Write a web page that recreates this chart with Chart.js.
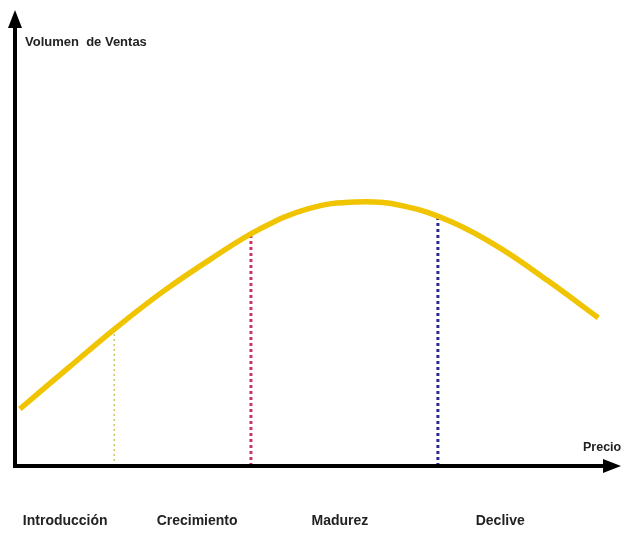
<!DOCTYPE html>
<html><head><meta charset="utf-8">
<script src="https://cdn.jsdelivr.net/npm/chart.js@4"></script>
<style>html,body{margin:0;padding:0;background:#fff}#wrap{width:626px;height:534px}</style>
</head><body><div id="wrap"><canvas id="c"></canvas></div>
<script>
const precio = [0.8, 8.8, 16.7, 24.6, 32.6, 40.5, 48.4, 56.4, 64.3, 72.2, 80.2, 88.1, 96.4];
const ventas = [12.5, 21.5, 30.3, 38.4, 45.6, 52.0, 56.4, 57.9, 57.0, 53.5, 47.8, 40.6, 32.5];
const limites = [16.4, 39.0, 69.9];
const limitesVentas = [30.3, 51.3, 54.4];
const limiteColores = ['#c8c860', '#cc3366', '#2a2a8a'];
const etapas = ['Introducción', 'Crecimiento', 'Madurez', 'Declive'];
const etapasCentro = [8.3, 30.1, 53.7, 80.2];
const tituloY = 'Volumen  de Ventas';
const tituloX = 'Precio';

const datasets = [{
  data: precio.map((x, i) => ({x, y: ventas[i]})),
  borderColor: '#f0c400', borderWidth: 5.5, pointRadius: 0,
  tension: 0.4, fill: false, order: 0
}];
limites.forEach((x, i) => datasets.push({
  data: [{x, y: 0}, {x, y: limitesVentas[i]}],
  borderColor: limiteColores[i], borderWidth: i === 0 ? 1.5 : 3,
  borderDash: i === 0 ? [2, 3] : [3, 3], pointRadius: 0, order: 1
}));

const decor = {
  id: 'decor',
  afterDraw(chart) {
    const {ctx, chartArea: a, scales} = chart;
    ctx.save();
    ctx.fillStyle = '#000'; ctx.strokeStyle = '#000';
    ctx.lineWidth = 4;
    ctx.beginPath();
    ctx.moveTo(a.left, a.bottom + 2); ctx.lineTo(a.left, a.top + 14);
    ctx.moveTo(a.left - 2, a.bottom); ctx.lineTo(a.right - 14, a.bottom);
    ctx.stroke();
    ctx.beginPath();
    ctx.moveTo(a.left, a.top); ctx.lineTo(a.left - 7, a.top + 18); ctx.lineTo(a.left + 7, a.top + 18); ctx.closePath();
    ctx.fill();
    ctx.beginPath();
    ctx.moveTo(a.right + 1, a.bottom); ctx.lineTo(a.right - 17, a.bottom - 7); ctx.lineTo(a.right - 17, a.bottom + 7); ctx.closePath();
    ctx.fill();
    ctx.fillStyle = '#222';
    ctx.textBaseline = 'middle';
    ctx.font = 'bold 13px "Liberation Sans", Arial, sans-serif';
    ctx.textAlign = 'left';
    ctx.fillText(tituloY, a.left + 10, 42);
    ctx.font = 'bold 12.5px "Liberation Sans", Arial, sans-serif';
    ctx.fillText(tituloX, a.right - 37, a.bottom - 18);
    ctx.font = 'bold 14px "Liberation Sans", Arial, sans-serif';
    ctx.textAlign = 'center';
    etapas.forEach((t, i) => ctx.fillText(t, scales.x.getPixelForValue(etapasCentro[i]), 521));
    ctx.restore();
  }
};

new Chart(document.getElementById('c'), {
  type: 'line',
  data: {datasets},
  options: {
    responsive: true, maintainAspectRatio: false, animation: false,
    layout: {padding: {left: 15, right: 6, top: 10, bottom: 68}},
    plugins: {legend: {display: false}, tooltip: {enabled: false}},
    scales: {
      x: {type: 'linear', min: 0, max: 100, display: false},
      y: {type: 'linear', min: 0, max: 100, display: false}
    }
  },
  plugins: [decor]
});
</script></body></html>
